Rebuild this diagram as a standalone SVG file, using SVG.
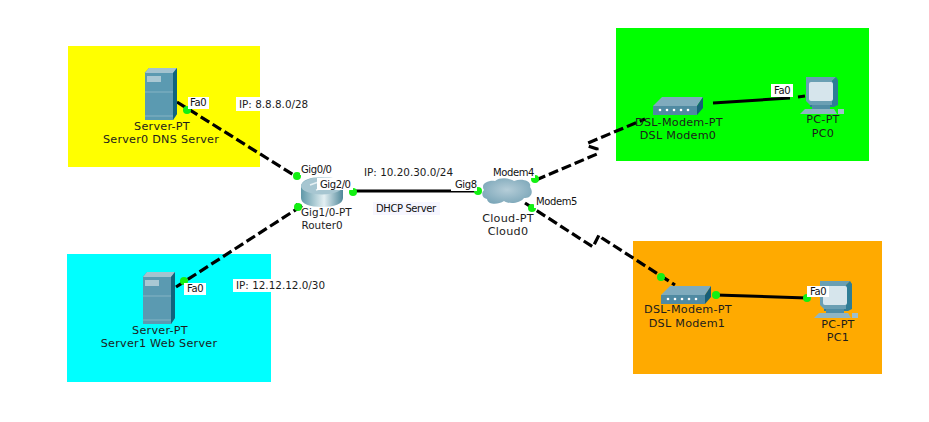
<svg xmlns="http://www.w3.org/2000/svg" width="929" height="422" viewBox="0 0 929 422">
<style>
text{font-family:"DejaVu Sans",Verdana,sans-serif;font-size:10.4px;fill:#1c1c1c}
.m{text-anchor:middle;font-size:11.2px;letter-spacing:.25px}
.p{font-size:10px;letter-spacing:-.4px;fill:#111}
.dash{fill:none;stroke:#000;stroke-width:3.200;stroke-dasharray:10 4}
.solid{fill:none;stroke:#000;stroke-width:3}
.dot{fill:#12f012}
.bg{fill:#fff}
</style>
<defs>
<linearGradient id="rt" x1="0" x2="1" y1="0" y2="0"><stop offset="0" stop-color="#5f98a8"/><stop offset=".55" stop-color="#e4f0f3"/><stop offset="1" stop-color="#4f8799"/></linearGradient>
<radialGradient id="cl" cx=".5" cy=".45" r=".6"><stop offset="0" stop-color="#b5cdd8"/><stop offset="1" stop-color="#7ba6b8"/></radialGradient>
<g id="server">
<path d="M0 4.500L4 0H32V46L28 52H0Z" fill="#5b9ab1"/>
<path d="M0 5L4 0H32L28 5Z" fill="#a4c3cf"/>
<path d="M28 5L32 0V46L28 52Z" fill="#11647c"/>
<rect x="2" y="8" width="14" height="6" fill="#a9c8d3"/>
<path d="M0 24H28M0 48H28" stroke="#86b4c4" stroke-width="1"/>
</g>
<g id="modem">
<path d="M0 9L9 0H50L44 9Z" fill="#7fabbd"/>
<path d="M0 9H44V18H0Z" fill="#4f8aa2"/>
<path d="M44 9L50 0V11L44 18Z" fill="#165f78"/>
<g fill="#fff"><circle cx="7" cy="13" r="1.300"/><circle cx="14" cy="13" r="1.300"/><circle cx="21" cy="13" r="1.300"/><circle cx="28" cy="13" r="1.300"/><circle cx="35" cy="13" r="1.300"/></g>
</g>
<g id="pc">
<path d="M6 0H36L32 4V28H10L6 24Z" fill="#6a9fb3"/>
<path d="M36 0L38 3V28L34 30H10V28H32V4Z" fill="#2f7d96"/>
<rect x="9" y="5" width="24" height="19" rx="2" fill="#d6e5ec"/>
<path d="M12 28H30V32H12Z" fill="#4f8ca4"/>
<path d="M5 32H34L37 37H0Z" fill="#8fb5c3"/>
<rect x="38" y="32" width="6" height="5" fill="#9fbfca"/>
</g>
</defs>
<rect width="929" height="422" fill="#fff"/>
<g id="areas">
<rect x="68" y="46" width="192" height="121" fill="#ffff00"/>
<rect x="67" y="254" width="204" height="128" fill="#00ffff"/>
<rect x="616" y="28" width="253" height="133" fill="#00ff00"/>
<rect x="633" y="241" width="249" height="133" fill="#ffaa00"/>
</g>
<g id="connectors">
<path class="dash" d="M177 102L297 177"/>
<path class="dash" d="M176 287L303 205"/>
<path class="solid" d="M353 191H478"/>
<path class="dash" d="M536 180L597 154V149L588 146V143L645 119"/>
<path class="dash" d="M525 203L593 247L599 235L602 238L675 285"/>
<path class="solid" d="M713 103L790 98M798 97L805 96"/>
<path class="solid" d="M716 295L807 298"/>
</g>
<g id="server0"><use href="#server" x="145" y="68"/><text class="m" x="162" y="130">Server-PT</text><text class="m" x="161" y="143">Server0 DNS Server</text></g>
<g id="server1"><use href="#server" x="143" y="272"/><text class="m" x="160" y="334">Server-PT</text><text class="m" x="159" y="347">Server1 Web Server</text></g>
<g id="router0">
<path d="M301 187C301 180 310 177 322 177C334 177 343 180 343 187V198C343 204 334 207 322 207C310 207 301 204 301 198Z" fill="url(#rt)"/>
<ellipse cx="322" cy="186" rx="21" ry="8.500" fill="#a7c6d1"/>
<path d="M310 185L324 180M316 190L332 185" stroke="#e6f0f3" stroke-width="1.500"/>
<rect x="296" y="203" width="1" height="5" fill="#333"/>
<text x="301" y="216">Gig1/0-PT</text><text x="322" y="229" style="text-anchor:middle">Router0</text>
</g>
<g id="cloud0">
<path d="M484 190C480 184 488 180 495 181C500 177 510 178 514 181C522 178 532 181 530 187C534 192 531 199 524 198C520 204 508 204 504 201C498 205 488 205 487 199C482 198 481 193 484 190Z" fill="url(#cl)"/>
<text class="m" x="508" y="222">Cloud-PT</text><text class="m" x="508" y="235">Cloud0</text>
</g>
<g id="modem0"><use href="#modem" x="653" y="97"/><text class="m" x="679" y="126">DSL-Modem-PT</text><text class="m" x="678" y="139">DSL Modem0</text></g>
<g id="modem1"><use href="#modem" x="661" y="286"/><text class="m" x="688" y="313">DSL-Modem-PT</text><text class="m" x="687" y="327">DSL Modem1</text></g>
<g id="pc0"><use href="#pc" x="800" y="77"/><text class="m" x="823" y="123">PC-PT</text><text class="m" x="823" y="137">PC0</text></g>
<g id="pc1"><use href="#pc" x="814" y="281"/><text class="m" x="838" y="328">PC-PT</text><text class="m" x="838" y="341">PC1</text></g>
<g id="port-dots">
<circle class="dot" cx="187" cy="110" r="4"/><circle class="dot" cx="297" cy="176" r="4"/><circle class="dot" cx="353" cy="192" r="4"/><circle class="dot" cx="298" cy="207" r="4"/><circle class="dot" cx="184" cy="281" r="4"/><circle class="dot" cx="478" cy="191" r="4"/><circle class="dot" cx="535" cy="179" r="4"/><circle class="dot" cx="532" cy="208" r="4"/><circle class="dot" cx="661" cy="277" r="4"/><circle class="dot" cx="716" cy="295" r="4"/><circle class="dot" cx="807" cy="298" r="4"/>
</g>
<g id="labels">
<rect class="bg" x="188" y="97" width="21" height="12"/><text class="p" x="190" y="106">Fa0</text>
<rect class="bg" x="236" y="97" width="73" height="14"/><text x="239" y="108">IP: 8.8.8.0/28</text>
<rect class="bg" x="300" y="165" width="32" height="10"/><text class="p" x="301" y="173">Gig0/0</text>
<rect class="bg" x="317" y="178" width="36" height="12"/><text class="p" x="320" y="188">Gig2/0</text>
<rect class="bg" x="184" y="283" width="22" height="12"/><text class="p" x="187" y="292">Fa0</text>
<rect class="bg" x="233" y="279" width="94" height="13"/><text x="236" y="289">IP: 12.12.12.0/30</text>
<rect class="bg" x="361" y="167" width="95" height="13"/><text x="364" y="176">IP: 10.20.30.0/24</text>
<rect x="373" y="202" width="67" height="13" fill="#f6f6ff"/><text class="p" x="376" y="212">DHCP Server</text>
<rect class="bg" x="451" y="179" width="26" height="12"/><text class="p" x="455" y="188">Gig8</text>
<rect class="bg" x="491" y="166" width="44" height="12"/><text class="p" x="493" y="176">Modem4</text>
<rect class="bg" x="534" y="196" width="44" height="12"/><text class="p" x="536" y="205">Modem5</text>
<rect class="bg" x="771" y="84" width="22" height="13"/><text class="p" x="774" y="94">Fa0</text>
<rect class="bg" x="807" y="286" width="22" height="11"/><text class="p" x="810" y="295">Fa0</text>
</g>
</svg>
